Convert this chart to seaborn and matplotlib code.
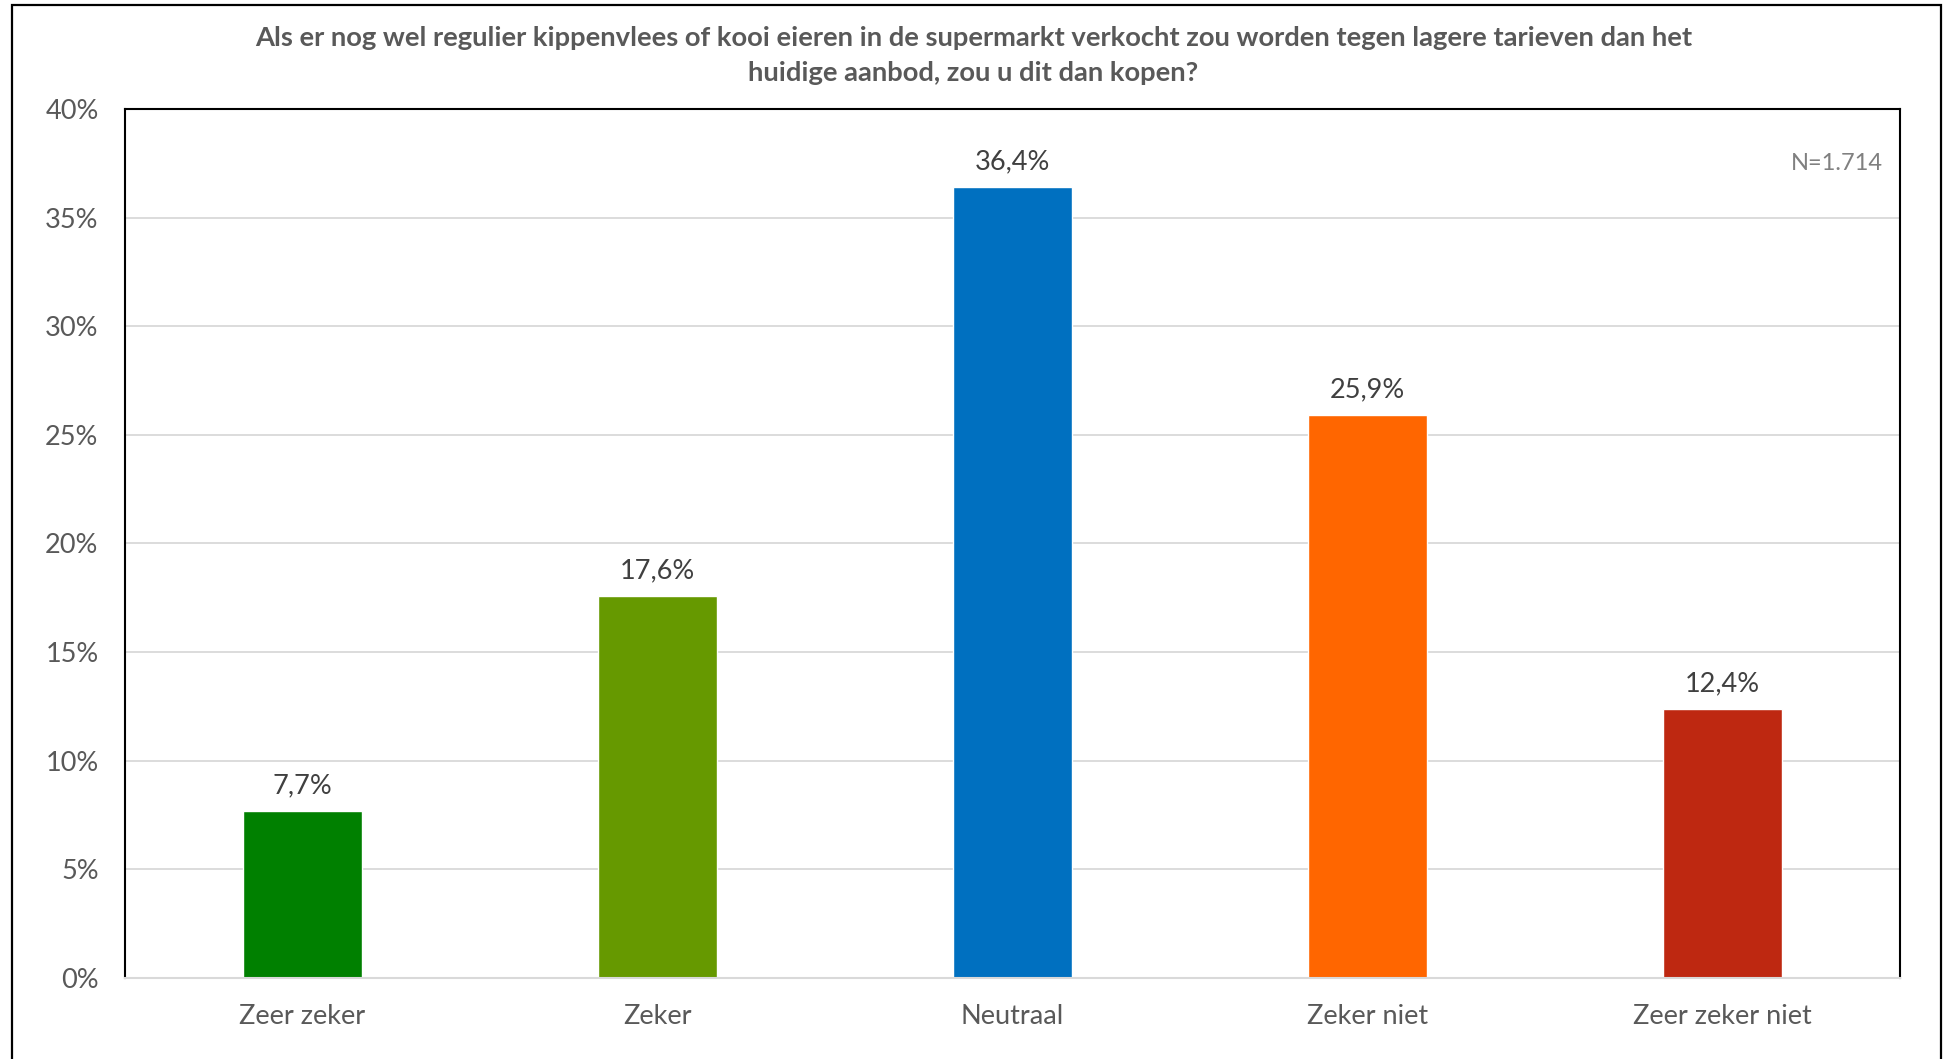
import matplotlib
matplotlib.use('Agg')
import matplotlib.pyplot as plt
import seaborn as sns
from matplotlib.patches import Rectangle

# data
categories = ['Zeer zeker', 'Zeker', 'Neutraal', 'Zeker niet', 'Zeer zeker niet']
values = [7.7, 17.6, 36.4, 25.9, 12.4]
colors = ['#008000', '#669900', '#0070C0', '#FF6600', '#BE2811']
yticks = [0, 5, 10, 15, 20, 25, 30, 35, 40]
title = ('Als er nog wel regulier kippenvlees of kooi eieren in de supermarkt verkocht zou worden tegen lagere tarieven dan het\n'
         'huidige aanbod, zou u dit dan kopen?')
n_text = 'N=1.714'

sns.set_style('white')
plt.rcParams['font.family'] = ['Lato', 'DejaVu Sans']

fig = plt.figure(figsize=(19.47, 10.59), dpi=100)
ax = fig.add_axes([0.0642, 0.0765, 0.9117, 0.8206])

sns.barplot(x=categories, y=values, hue=categories, palette=colors,
            width=0.333, legend=False, saturation=1, ax=ax)

ax.set_xlim(-0.5, 4.5)
ax.set_ylim(0, 40)
ax.set_yticks(yticks)
ax.set_yticklabels([f'{t}%' for t in yticks], fontsize=19.5, color='#595959')
ax.tick_params(axis='x', labelsize=19.5, labelcolor='#595959', pad=19, length=0)
ax.tick_params(axis='y', pad=19, length=0)
ax.set_xlabel('')
ax.set_ylabel('')
ax.yaxis.grid(True, color='#D9D9D9', lw=1.3)
ax.set_axisbelow(True)

for s in ['left', 'top', 'right']:
    ax.spines[s].set_color('black')
    ax.spines[s].set_linewidth(1.5)
ax.spines['bottom'].set_color('#D9D9D9')
ax.spines['bottom'].set_linewidth(1.5)

# value labels
for cont in ax.containers:
    ax.bar_label(cont, labels=[f'{v:.1f}%'.replace('.', ',') for v in cont.datavalues],
                 padding=9, fontsize=19.5, color='#404040')

ax.text(0.9905, 0.937, n_text, transform=ax.transAxes, ha='right', va='center',
        fontsize=17, color='#808080')

fig.text(0.5, 0.948, title, ha='center', va='center', fontsize=19.7, fontweight='bold',
         color='#595959', linespacing=1.55)

# outer frame
fig.patches.append(Rectangle((0.0062, -0.02), 0.9906, 1.0153, transform=fig.transFigure,
                             fill=False, edgecolor='black', lw=1.6))

fig.savefig('out.png', dpi=100)
